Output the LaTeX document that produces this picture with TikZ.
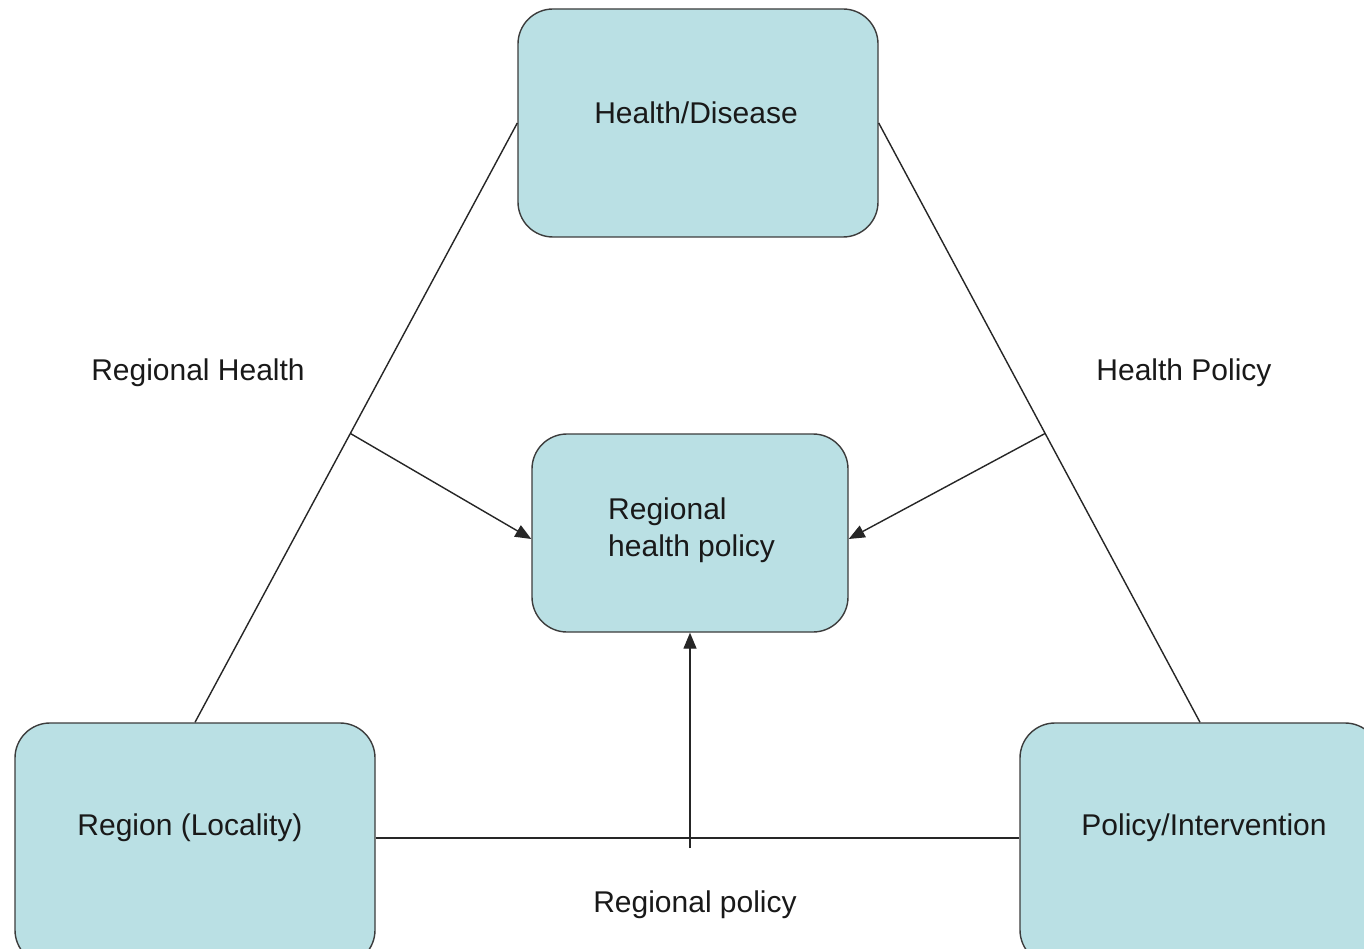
\documentclass[tikz,border=0pt]{standalone}
\usepackage{fontspec}
\setmainfont{Liberation Sans}
\usetikzlibrary{arrows.meta,calc}
\definecolor{boxfill}{RGB}{186,224,228}
\definecolor{boxline}{RGB}{60,60,60}
\tikzset{
  box/.style={draw=boxline, line width=1.4pt, fill=boxfill, rounded corners=35pt, inner sep=0pt},
  txt/.style={font=\fontsize{30}{37}\selectfont, inner sep=0pt, text=black!90},
  link/.style={draw=black!85, line width=1.4pt},
  arr/.style={link, -{Triangle[length=16pt,width=13pt]}}
}
\begin{document}
\begin{tikzpicture}[x=1pt,y=-1pt]
\clip (0,0) rectangle (1364,949);
\fill[white] (0,0) rectangle (1364,949);
% boxes
\node[box, minimum width=360pt, minimum height=228pt] (hd) at (698,123) {};
\node[box, minimum width=316pt, minimum height=198pt] (rhp) at (690,533) {};
\node[box, minimum width=360pt, minimum height=242pt] (reg) at (195,844) {};
\node[box, minimum width=360pt, minimum height=242pt] (pol) at (1200,844) {};
% box texts
\node[txt] (hdt) at (696,113) {Health/Disease};
\node[txt, anchor=west, align=left] (rhpt) at (608,530) {Regional\\health policy};
\node[txt] (regt) at (190,828) {Region (Locality)};
\node[txt] (polt) at (1204,828) {Policy/Intervention};
% labels
\node[txt] (l1) at (198,373) {Regional Health};
\node[txt] (l2) at (1184,373) {Health Policy};
\node[txt] (l3) at (695,905) {Regional policy};
% connectors
\draw[link] (reg.north) -- (hd.west);
\draw[link] (hd.east) -- (pol.north);
\coordinate (hl) at (0,838);
\draw[link] (reg.east |- hl) -- (pol.west |- hl);
\coordinate (tl) at ($(reg.north)!0.482!(hd.west)$);
\coordinate (tr) at ($(pol.north)!0.482!(hd.east)$);
\draw[arr] (tl) -- ($(rhp.west)+(0,6)$);
\draw[arr] (tr) -- ($(rhp.east)+(0,6)$);
\coordinate (vb) at (690,848);
\draw[arr] (vb) -- (rhp.south);
\end{tikzpicture}
\end{document}
